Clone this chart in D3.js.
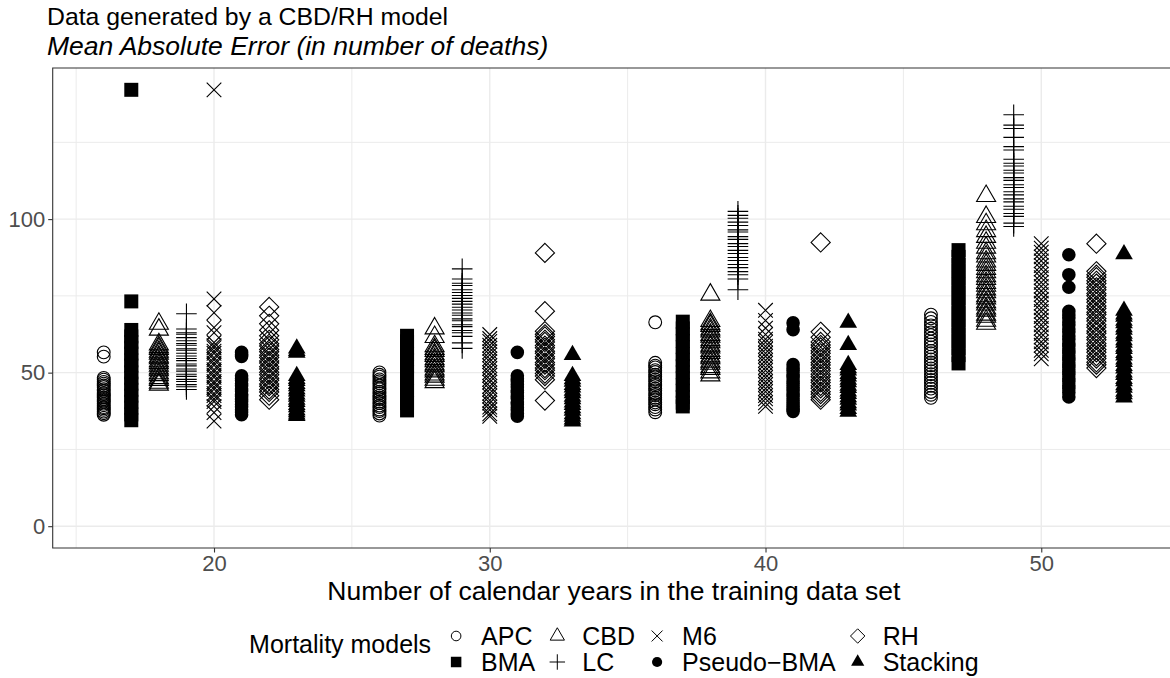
<!DOCTYPE html>
<html lang="en">
<head>
    <meta charset="UTF-8">
    <title>MAE by training length</title>
    <script src="https://d3js.org/d3.v7.min.js"></script>
    <style>
        body { margin: 0; background: #fff; }
        text { font-family: "Liberation Sans", Arial, Helvetica, sans-serif; }
        .grid-major { stroke: #ebebeb; stroke-width: 1.4px; }
        .grid-minor { stroke: #ebebeb; stroke-width: 1px; }
        .tick-label { fill: #4d4d4d; font-size: 22px; }
    </style>
</head>
<body>
<svg width="1170" height="678"></svg>
<script>
    // training lengths and models (order of the dodge inside each group)
    const years = [20, 30, 40, 50];
    const models = ['APC', 'BMA', 'CBD', 'LC', 'M6', 'Pseudo-BMA', 'RH', 'Stacking'];
    const legendLabels = ['APC', 'BMA', 'CBD', 'LC', 'M6', 'Pseudo\u2212BMA', 'RH', 'Stacking'];
    const xTicks = [20, 30, 40, 50];
    const yTicks = [0, 50, 100];

    // MAE values, one list per training length (20, 30, 40, 50)
    const apc = [
        [56.6, 55.2, 48.3, 47.7, 47.0, 46.4, 45.8, 45.3, 44.6, 44.1, 43.4, 43.0, 42.5, 41.9, 41.4, 40.9, 40.5, 39.9, 39.4, 38.8, 38.4, 37.9, 37.3, 36.8, 36.3],
        [50.1, 49.3, 48.7, 47.8, 47.2, 46.6, 45.8, 45.1, 44.6, 43.8, 43.3, 42.5, 41.9, 41.4, 40.6, 40.1, 39.3, 38.8, 38.0, 37.5, 36.7, 36.0],
        [66.4, 53.2, 52.3, 51.7, 50.8, 50.2, 49.3, 48.7, 47.8, 47.2, 46.3, 45.7, 44.8, 44.2, 43.3, 42.7, 41.8, 41.2, 40.3, 39.7, 38.8, 38.0, 37.1],
        [68.9, 67.7, 66.5, 65.4, 64.3, 63.1, 62.2, 61.1, 60.1, 59.2, 58.2, 57.1, 56.3, 55.2, 54.3, 53.3, 52.4, 51.4, 50.5, 49.5, 48.6, 47.6, 46.7, 45.7, 44.8, 43.7, 42.8, 41.8]
    ];
    const bma = [
        [142.1, 73.2, 63.9, 61.8, 60.0, 58.1, 56.2, 54.0, 52.3, 50.1, 48.3, 46.4, 44.4, 42.5, 40.5, 38.6, 36.4, 34.5],
        [62.0, 60.2, 57.9, 56.1, 54.2, 52.0, 50.3, 48.2, 46.1, 44.2, 42.0, 40.1, 37.7],
        [66.6, 64.4, 62.5, 60.3, 58.3, 56.0, 54.2, 52.1, 50.1, 48.2, 46.0, 44.1, 42.1, 40.2, 39.0],
        [89.9, 87.7, 85.1, 83.1, 80.6, 78.6, 76.0, 74.1, 71.5, 69.4, 67.0, 64.9, 62.4, 60.3, 57.9, 55.7, 53.0]
    ];
    const cbd = [
        [65.9, 64.0, 59.2, 58.3, 57.7, 56.8, 56.2, 55.2, 54.7, 53.7, 53.1, 52.3, 51.4, 50.8, 49.8, 49.2, 48.2, 47.6, 46.7, 46.1],
        [64.4, 61.6, 58.6, 57.7, 57.1, 56.0, 55.4, 54.4, 53.7, 52.7, 52.1, 51.0, 50.4, 49.4, 48.7, 47.7, 46.9],
        [75.4, 66.8, 65.8, 65.2, 64.1, 63.4, 62.3, 61.7, 60.6, 59.9, 58.8, 58.2, 57.1, 56.4, 55.3, 54.7, 53.6, 52.9, 51.8, 51.2, 50.1, 49.1],
        [107.5, 100.7, 98.3, 96.1, 94.2, 92.3, 90.7, 88.9, 87.8, 86.2, 85.1, 83.8, 82.7, 81.4, 80.5, 79.2, 78.3, 77.1, 76.2, 74.9, 74.2, 72.9, 72.2, 70.9, 70.2, 68.9, 68.2, 66.9, 65.9]
    ];
    const lc = [
        [69.2, 64.2, 63.0, 62.5, 61.4, 60.4, 59.5, 58.9, 57.8, 57.3, 56.3, 55.4, 54.6, 53.9, 52.8, 52.2, 51.2, 50.5, 49.5, 48.8, 47.8, 47.1, 46.1, 45.4, 44.5],
        [83.8, 80.5, 79.1, 78.4, 77.0, 76.1, 75.1, 74.2, 73.2, 72.3, 71.3, 70.4, 69.4, 68.7, 67.5, 66.9, 65.6, 65.0, 63.7, 63.0, 61.8, 59.7, 57.9],
        [102.5, 101.2, 100.3, 99.0, 97.9, 96.5, 95.8, 94.3, 93.4, 92.0, 91.1, 89.8, 88.8, 87.5, 86.5, 85.2, 84.2, 82.9, 81.9, 80.5, 77.0],
        [134.0, 130.6, 129.5, 126.6, 123.6, 122.5, 119.5, 118.2, 117.3, 115.9, 115.0, 113.5, 112.6, 111.2, 110.3, 108.9, 107.9, 106.6, 105.6, 104.2, 103.2, 101.8, 100.9, 98.7, 97.6]
    ];
    const m6 = [
        [142.1, 74.0, 69.5, 64.7, 63.0, 59.8, 58.8, 58.1, 57.0, 56.3, 54.9, 54.2, 53.1, 52.4, 51.0, 50.3, 49.2, 48.5, 47.1, 46.4, 45.3, 44.6, 43.2, 42.5, 41.4, 40.6, 39.0, 37.0, 34.2],
        [62.4, 61.1, 60.2, 58.9, 57.9, 56.8, 55.8, 54.5, 53.6, 52.3, 51.3, 50.0, 49.1, 47.8, 46.9, 45.5, 44.6, 43.3, 42.4, 41.0, 40.1, 38.8, 37.9, 36.6, 35.8],
        [70.3, 67.0, 64.5, 62.4, 60.9, 59.9, 58.6, 57.6, 56.3, 55.3, 54.0, 53.0, 51.7, 50.7, 49.4, 48.4, 47.1, 46.1, 44.8, 43.8, 42.5, 41.5, 40.2, 39.0],
        [92.0, 90.5, 89.2, 87.7, 86.4, 84.9, 83.7, 82.1, 80.9, 79.4, 78.1, 76.6, 75.4, 73.8, 72.6, 71.1, 69.9, 68.3, 67.1, 65.6, 64.4, 62.8, 61.6, 60.0, 58.9, 57.3, 56.1, 54.5]
    ];
    const pseudoBma = [
        [56.6, 55.9, 55.3, 49.0, 48.1, 47.4, 46.4, 45.7, 44.7, 44.0, 43.0, 42.3, 41.3, 40.6, 39.6, 38.9, 37.9, 37.2, 36.3],
        [56.6, 49.0, 48.0, 47.2, 46.1, 45.3, 44.2, 43.5, 42.3, 41.6, 40.4, 39.7, 38.6, 37.8, 36.7, 35.8],
        [66.2, 64.0, 52.6, 51.5, 50.6, 49.4, 48.5, 47.3, 46.4, 45.2, 44.3, 43.1, 42.2, 41.0, 40.1, 39.0, 38.2, 37.4],
        [88.4, 81.9, 77.8, 70.0, 68.8, 67.8, 66.5, 65.5, 64.2, 63.2, 61.9, 60.9, 59.6, 58.6, 57.3, 56.3, 55.0, 54.0, 52.7, 51.7, 50.4, 49.4, 48.1, 47.1, 45.8, 44.8, 43.5, 42.1]
    ];
    const rh = [
        [71.4, 68.5, 65.9, 63.8, 62.0, 60.7, 59.4, 58.7, 57.5, 56.8, 55.7, 54.9, 53.8, 53.1, 51.9, 51.2, 50.1, 49.3, 48.2, 47.5, 46.3, 45.6, 44.5, 43.7, 42.5, 41.2],
        [89.0, 70.0, 63.5, 62.5, 61.8, 60.7, 60.0, 58.8, 58.1, 57.0, 56.3, 55.2, 54.5, 53.3, 52.6, 51.5, 50.8, 49.7, 48.9, 47.7, 40.9],
        [92.4, 63.3, 61.5, 60.0, 59.0, 58.2, 57.1, 56.3, 55.2, 54.4, 53.3, 52.5, 51.4, 50.6, 49.5, 48.7, 47.6, 46.8, 45.7, 44.9, 43.8, 43.0, 42.0, 41.2],
        [92.0, 83.0, 81.9, 81.1, 79.9, 79.0, 77.8, 77.0, 75.8, 75.0, 73.8, 72.9, 71.7, 70.9, 69.7, 68.9, 67.6, 66.8, 65.6, 64.8, 63.6, 62.8, 61.5, 60.7, 59.5, 58.7, 57.5, 56.6, 55.4, 54.6, 53.4, 52.6, 51.5]
    ];
    const stacking = [
        [57.9, 57.1, 56.5, 48.9, 48.0, 47.3, 46.3, 45.6, 44.6, 43.9, 42.9, 42.2, 41.2, 40.5, 39.5, 38.8, 37.8, 37.1, 36.4, 35.9],
        [55.8, 48.9, 47.9, 47.1, 46.0, 45.2, 44.1, 43.3, 42.2, 41.4, 40.3, 39.5, 38.4, 37.6, 36.5, 35.7, 34.8, 34.1],
        [66.3, 59.0, 52.5, 51.5, 50.7, 49.6, 48.8, 47.7, 46.9, 45.8, 45.0, 43.9, 43.1, 42.0, 41.2, 40.1, 39.3, 38.2, 37.3],
        [88.6, 70.2, 69.0, 68.2, 66.9, 66.1, 64.8, 64.0, 62.7, 61.9, 60.6, 59.8, 58.5, 57.7, 56.4, 55.6, 54.3, 53.5, 52.2, 51.4, 50.1, 49.3, 48.0, 47.2, 45.9, 45.1, 43.8, 43.0, 41.9]
    ];
    const seriesByModel = [apc, bma, cbd, lc, m6, pseudoBma, rh, stacking];

    // flatten to points: x = training length shifted by model position
    const points = [];
    models.forEach((m, i) => {
        seriesByModel[i].forEach((vals, j) => {
            vals.forEach(v => points.push({ model: m, x: years[j] + i - 4, y: v }));
        });
    });

    // shape paths (ggplot shapes 1, 15, 2, 3, 4, 16, 5, 17)
    function shapePath(m, k) {
        const p = d3.path();
        if (m === 'APC' || m === 'Pseudo-BMA') {
            const r = (m === 'APC' ? 6.4 : 6.8) * k;
            p.moveTo(r, 0); p.arc(0, 0, r, 0, 2 * Math.PI);
        } else if (m === 'BMA') {
            const h = 7 * k;
            p.rect(-h, -h, 2 * h, 2 * h);
        } else if (m === 'CBD' || m === 'Stacking') {
            const r = (m === 'CBD' ? 11 : 10.2) * k;
            p.moveTo(0, -r);
            p.lineTo(r * Math.sqrt(3) / 2, r / 2);
            p.lineTo(-r * Math.sqrt(3) / 2, r / 2);
            p.closePath();
        } else if (m === 'LC') {
            const h = 10.3 * k;
            p.moveTo(-h, 0); p.lineTo(h, 0);
            p.moveTo(0, -h); p.lineTo(0, h);
        } else if (m === 'M6') {
            const h = 7.3 * k;
            p.moveTo(-h, -h); p.lineTo(h, h);
            p.moveTo(-h, h); p.lineTo(h, -h);
        } else if (m === 'RH') {
            const h = 9.6 * k;
            p.moveTo(0, -h); p.lineTo(h, 0); p.lineTo(0, h); p.lineTo(-h, 0);
            p.closePath();
        }
        return p.toString();
    }
    const filled = new Set(['BMA', 'Pseudo-BMA', 'Stacking']);

    const svg = d3.select('svg');
    const panel = { left: 52.7, right: 1175, top: 68, bottom: 548 };

    // scales with ggplot's 5% expansion, y limits include 0
    const xExt = d3.extent(points, d => d.x);
    const xPad = (xExt[1] - xExt[0]) * 0.05;
    const x = d3.scaleLinear().domain([xExt[0] - xPad, xExt[1] + xPad]).range([panel.left, panel.right]);
    const yMax = d3.max(points, d => d.y);
    const yPad = yMax * 0.05;
    const y = d3.scaleLinear().domain([-yPad, yMax + yPad]).range([panel.bottom, panel.top]);

    // gridlines
    const g = svg.append('g');
    const xMinor = [15, 25, 35, 45, 55], yMinor = [25, 75, 125];
    g.selectAll('.gx-minor').data(xMinor).enter().append('line')
        .attr('class', 'grid-minor').attr('x1', d => x(d)).attr('x2', d => x(d))
        .attr('y1', panel.top).attr('y2', panel.bottom);
    g.selectAll('.gy-minor').data(yMinor).enter().append('line')
        .attr('class', 'grid-minor').attr('y1', d => y(d)).attr('y2', d => y(d))
        .attr('x1', panel.left).attr('x2', panel.right);
    g.selectAll('.gx-major').data(xTicks).enter().append('line')
        .attr('class', 'grid-major').attr('x1', d => x(d)).attr('x2', d => x(d))
        .attr('y1', panel.top).attr('y2', panel.bottom);
    g.selectAll('.gy-major').data(yTicks).enter().append('line')
        .attr('class', 'grid-major').attr('y1', d => y(d)).attr('y2', d => y(d))
        .attr('x1', panel.left).attr('x2', panel.right);

    // points
    g.selectAll('.pt').data(points).enter().append('path')
        .attr('transform', d => `translate(${x(d.x)},${y(d.y)})`)
        .attr('d', d => shapePath(d.model, 1))
        .attr('fill', d => filled.has(d.model) ? '#000' : 'none')
        .attr('stroke', d => filled.has(d.model) ? 'none' : '#000')
        .attr('stroke-width', 1.1);

    // panel border (right side runs past the picture edge)
    svg.append('path')
        .attr('d', `M1172,${panel.top}H${panel.left}V${panel.bottom}H1172`)
        .attr('fill', 'none').attr('stroke', '#333').attr('stroke-width', 1.1);

    // axes
    const xAxis = svg.append('g').attr('transform', `translate(0,${panel.bottom})`)
        .call(d3.axisBottom(x).tickValues(xTicks).tickSize(4.5).tickPadding(3));
    const yAxis = svg.append('g').attr('transform', `translate(${panel.left},0)`)
        .call(d3.axisLeft(y).tickValues(yTicks).tickSize(4.5).tickPadding(3));
    [xAxis, yAxis].forEach(a => {
        a.select('.domain').remove();
        a.selectAll('line').attr('stroke', '#333').attr('stroke-width', 1.1);
        a.selectAll('text').attr('class', 'tick-label').attr('fill', '#4d4d4d')
            .style('font-family', '"Liberation Sans", Arial, sans-serif');
    });

    // titles
    svg.append('text').attr('x', 47).attr('y', 25)
        .style('font-size', '24.8px').text('Data generated by a CBD/RH model');
    svg.append('text').attr('x', 47).attr('y', 55)
        .style('font-size', '26.5px').style('font-style', 'italic')
        .text('Mean Absolute Error (in number of deaths)');
    svg.append('text').attr('x', (panel.left + panel.right) / 2).attr('y', 600)
        .attr('text-anchor', 'middle').style('font-size', '26.5px')
        .text('Number of calendar years in the training data set');

    // legend: 2 rows, filled column by column, centred under the panel
    const leg = svg.append('g');
    const legTitle = leg.append('text').attr('x', 0).attr('y', 653)
        .style('font-size', '25px').text('Mortality models');
    let cx = legTitle.node().getComputedTextLength() + 25;
    const rowY = [636, 662];
    for (let c = 0; c < 4; c++) {
        let maxW = 0;
        for (let r = 0; r < 2; r++) {
            const i = c * 2 + r;
            const m = models[i];
            leg.append('path')
                .attr('transform', `translate(${cx},${rowY[r]})`)
                .attr('d', shapePath(m, 0.75))
                .attr('fill', filled.has(m) ? '#000' : 'none')
                .attr('stroke', filled.has(m) ? 'none' : '#000')
                .attr('stroke-width', 1);
            const t = leg.append('text').attr('x', cx + 25).attr('y', rowY[r] + 9)
                .style('font-size', '25px').text(legendLabels[i]);
            maxW = Math.max(maxW, t.node().getComputedTextLength());
        }
        cx = cx + 25 + maxW + (c < 3 ? 22 : 0);
    }
    leg.attr('transform', `translate(${(panel.left + 1175) / 2 - cx / 2},0)`);
</script>
</body>
</html>
